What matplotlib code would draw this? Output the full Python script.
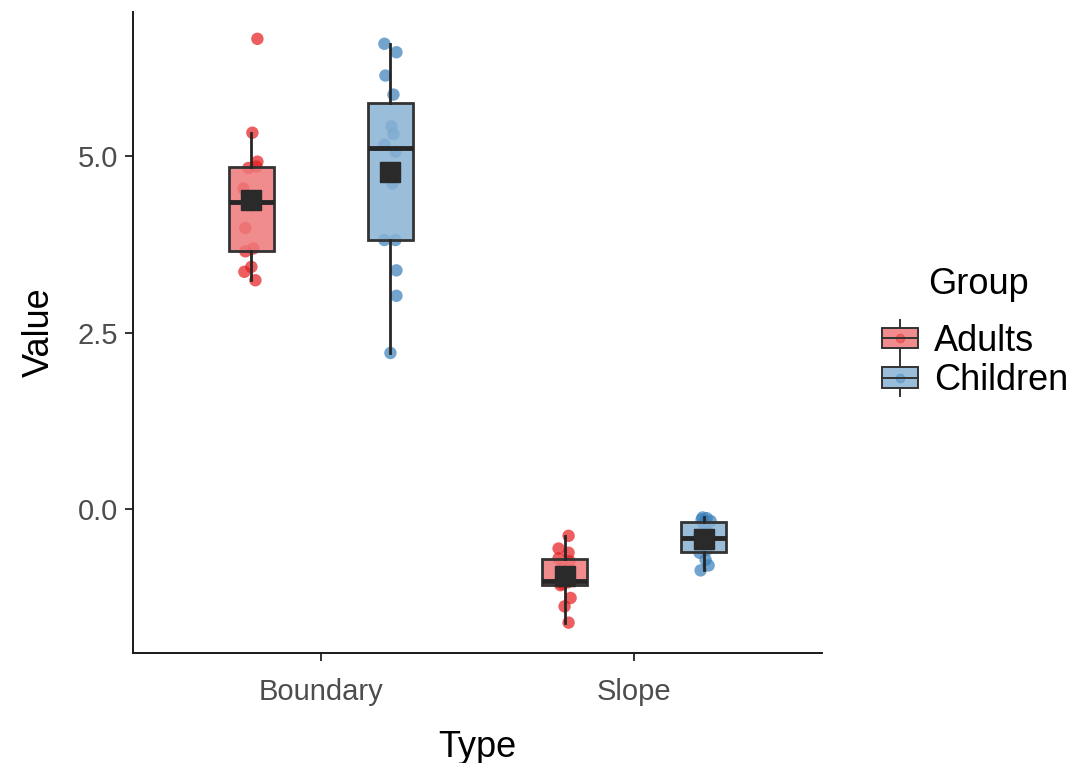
import matplotlib
matplotlib.use("Agg")
import matplotlib.pyplot as plt
from matplotlib.legend_handler import HandlerBase
from matplotlib.patches import Rectangle, Patch
from matplotlib.lines import Line2D
import numpy as np

plt.rcParams['font.family'] = ['Liberation Sans', 'DejaVu Sans']

# ---------------- data ----------------
types = ["Boundary", "Slope"]
groups = ["Adults", "Children"]

adults_boundary = [3.24, 3.36, 3.43, 3.65, 3.69, 3.98, 4.30, 4.40, 4.54, 4.83, 4.85, 4.92, 5.33, 6.66]
children_boundary = [2.21, 3.02, 3.38, 3.81, 3.81, 4.61, 5.06, 5.16, 5.31, 5.42, 5.87, 6.14, 6.47, 6.59]
adults_slope = [-1.61, -1.38, -1.26, -1.08, -1.06, -1.04, -1.03, -1.01, -0.85, -0.74, -0.70, -0.62, -0.56, -0.38]
children_slope = [-0.87, -0.80, -0.72, -0.62, -0.58, -0.52, -0.44, -0.38, -0.33, -0.22, -0.17, -0.15, -0.13, -0.12]

# horizontal jitter offsets (pixels), same order as values
jitter_adults_boundary = [4, -7, 0, -6, 2, -6, 0, 3, -8, -3, 5, 6, 1, 6]
jitter_children_boundary = [0, 6, 6, -6, 5, 2, 5, -6, 3, 1, 3, -5, 6, -6]
jitter_adults_slope = [4, 0, 6, -4, -2, 3, -5, 1, -3, 5, -6, 4, -6, 4]
jitter_children_slope = [-3, 5, 2, -4, 3, -2, 1, -5, 4, 0, 7, -2, 3, -1]

series = {
    ("Boundary", "Adults"): (adults_boundary, jitter_adults_boundary),
    ("Boundary", "Children"): (children_boundary, jitter_children_boundary),
    ("Slope", "Adults"): (adults_slope, jitter_adults_slope),
    ("Slope", "Children"): (children_slope, jitter_children_slope),
}

colors = {"Adults": "#E41A1C", "Children": "#377EB8"}
# box fill: nearly opaque light tone (so points beneath show faintly)
box_fill = {"Adults": (238 / 255, 120 / 255, 121 / 255, 0.85),
            "Children": (137 / 255, 178 / 255, 212 / 255, 0.85)}
dodge = {"Adults": -0.222, "Children": 0.222}
box_w = 0.146
px_unit = 1 / 313.0

# ---------------- figure ----------------
W, H = 1092, 763
fig = plt.figure(figsize=(W / 100, H / 100), dpi=100)
ax = fig.add_axes([133 / W, (763 - 653) / H, (822 - 133) / W, (653 - 12) / H])

for ti, t in enumerate(types):
    for g in groups:
        vals, jit = series[(t, g)]
        pos = ti + 1 + dodge[g]
        xs = pos + np.array(jit) * px_unit
        ax.scatter(xs, vals, s=80, color=colors[g], alpha=0.7, edgecolors='none', zorder=1)
        ax.boxplot([vals], positions=[pos], widths=box_w, patch_artist=True,
                   showfliers=False, showcaps=False, whis=1.5, manage_ticks=False,
                   boxprops=dict(facecolor=box_fill[g], edgecolor="#333333", linewidth=2.0),
                   whiskerprops=dict(color="#262626", linewidth=2.0),
                   medianprops=dict(color="#262626", linewidth=3.5, solid_capstyle='butt'),
                   zorder=2)
        ax.plot([pos], [np.mean(vals)], marker='s', markersize=14.5, color="#2a2a2a",
                linestyle='none', zorder=3)

ax.set_xlim(0.4, 2.6)
ax.set_ylim(-2.04, 7.04)
ax.set_xticks([1, 2])
ax.set_xticklabels(types)
ax.set_yticks([0, 2.5, 5.0])
ax.set_yticklabels(["0.0", "2.5", "5.0"])

for s in ["top", "right"]:
    ax.spines[s].set_visible(False)
for s in ["left", "bottom"]:
    ax.spines[s].set_linewidth(1.4)
    ax.spines[s].set_color("#1a1a1a")
ax.tick_params(axis='both', length=6, width=1.4, color="#333333", labelcolor="#4D4D4D",
               labelsize=21)
ax.tick_params(axis='x', pad=12)
ax.tick_params(axis='y', pad=5)
ax.set_xlabel("Type", fontsize=26, labelpad=17)
ax.set_ylabel("Value", fontsize=26, labelpad=15)


class BoxHandler(HandlerBase):
    def create_artists(self, legend, orig_handle, xdescent, ydescent, width, height,
                       fontsize, trans):
        face = orig_handle.get_facecolor()
        base = orig_handle.get_edgecolor()
        x0, y0 = -xdescent, -ydescent
        cy = y0 + height / 2
        bh = 14.5
        cx = x0 + width / 2
        arts = []
        arts.append(Line2D([cx, cx], [cy + bh / 2, cy + bh / 2 + 6], color="#333333", lw=1.4, transform=trans))
        arts.append(Line2D([cx, cx], [cy - bh / 2 - 6, cy - bh / 2], color="#333333", lw=1.4, transform=trans))
        arts.append(Rectangle((x0, cy - bh / 2), width, bh, facecolor=face,
                              edgecolor="#333333", lw=1.4, transform=trans))
        arts.append(Line2D([cx], [cy], marker='o', markersize=6, color=base, alpha=0.35,
                           linestyle='none', transform=trans))
        arts.append(Line2D([x0, x0 + width], [cy, cy], color="#333333", lw=1.4, transform=trans))
        return arts


handles = [Patch(facecolor=box_fill[g], edgecolor=colors[g], label=g) for g in groups]
leg = fig.legend(handles=handles, labels=groups,
                 handler_map={Patch: BoxHandler()},
                 loc='center left', bbox_to_anchor=(882 / W, (763 - 361) / H),
                 frameon=False, fontsize=26,
                 handlelength=1.0, handleheight=0.7, handletextpad=0.45,
                 labelspacing=0.12, borderaxespad=0, borderpad=0)
fig.text(978 / W, (763 - 285) / H, "Group", fontsize=26, ha='center', va='center')

fig.savefig("out.png", dpi=100)
